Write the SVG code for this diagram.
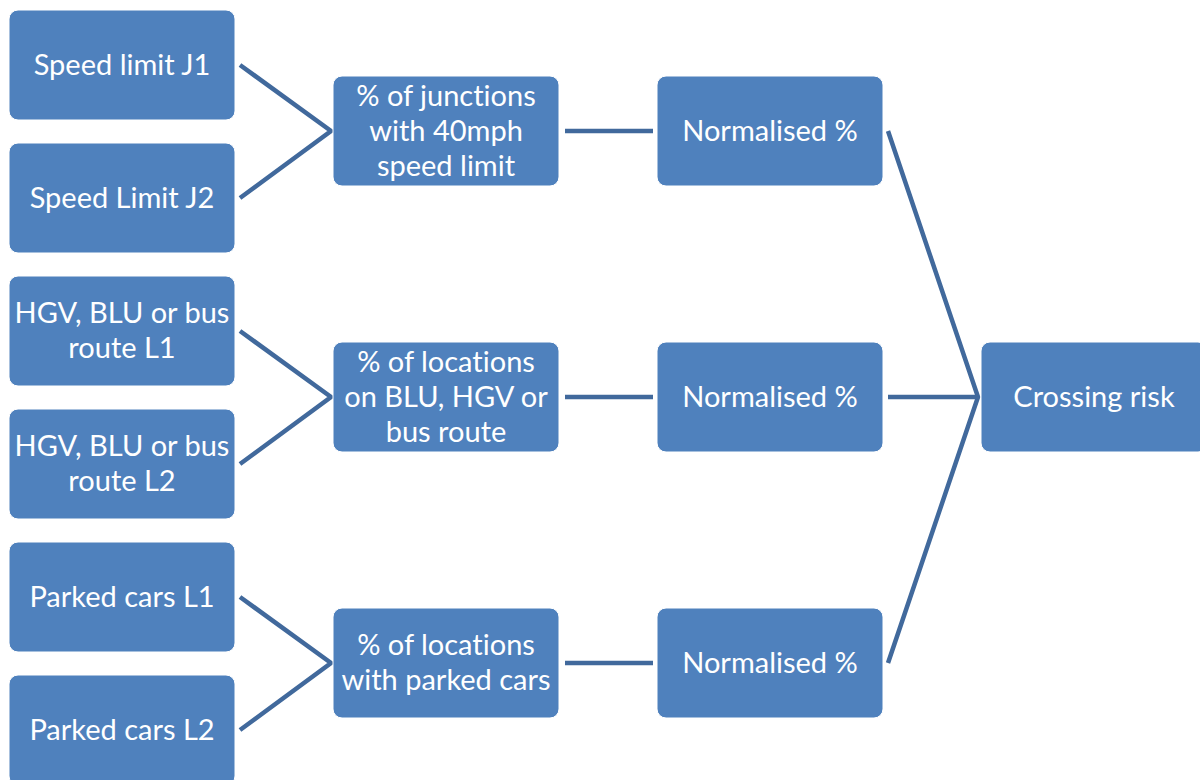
<svg xmlns="http://www.w3.org/2000/svg" width="1200" height="780" viewBox="0 0 1200 780">
<style>
.box{fill:#4F81BD;stroke:#ffffff;stroke-width:1}
.t{font-family:Lato,"Liberation Sans",sans-serif;font-size:29px;fill:#ffffff;text-anchor:middle;dominant-baseline:central;font-variant-ligatures:none}
.c{stroke:#41699C;stroke-width:4.5;fill:none}
</style>
<rect width="1200" height="780" fill="#ffffff"/>
<g id="connectors">
<polyline class="c" points="240,65 331,131 240,198"/>
<polyline class="c" points="240,331 331,397 240,464"/>
<polyline class="c" points="240,597 331,663 240,730"/>
<line class="c" x1="565" y1="131" x2="653" y2="131"/>
<line class="c" x1="565" y1="397" x2="653" y2="397"/>
<line class="c" x1="565" y1="663" x2="653" y2="663"/>
<polyline class="c" points="888,131 978,397 888,663"/>
<line class="c" x1="888" y1="397" x2="978" y2="397"/>
</g>
<g id="n1"><rect class="box" x="9" y="10" width="226" height="110" rx="9"/><text class="t" x="122" y="63">Speed limit J1</text></g>
<g id="n2"><rect class="box" x="9" y="143" width="226" height="110" rx="9"/><text class="t" x="122" y="196">Speed Limit J2</text></g>
<g id="n3"><rect class="box" x="9" y="276" width="226" height="110" rx="9"/><text class="t" x="122" y="311">HGV, BLU or bus</text><text class="t" x="122" y="346">route L1</text></g>
<g id="n4"><rect class="box" x="9" y="409" width="226" height="110" rx="9"/><text class="t" x="122" y="444">HGV, BLU or bus</text><text class="t" x="122" y="479">route L2</text></g>
<g id="n5"><rect class="box" x="9" y="542" width="226" height="110" rx="9"/><text class="t" x="122" y="595">Parked cars L1</text></g>
<g id="n6"><rect class="box" x="9" y="675" width="226" height="110" rx="9"/><text class="t" x="122" y="728">Parked cars L2</text></g>
<g id="m1"><rect class="box" x="333" y="76" width="226" height="110" rx="9"/><text class="t" x="446" y="94">% of junctions</text><text class="t" x="446" y="129">with 40mph</text><text class="t" x="446" y="164">speed limit</text></g>
<g id="m2"><rect class="box" x="333" y="342" width="226" height="110" rx="9"/><text class="t" x="446" y="360">% of locations</text><text class="t" x="446" y="395">on BLU, HGV or</text><text class="t" x="446" y="430">bus route</text></g>
<g id="m3"><rect class="box" x="333" y="608" width="226" height="110" rx="9"/><text class="t" x="446" y="643">% of locations</text><text class="t" x="446" y="678">with parked cars</text></g>
<g id="p1"><rect class="box" x="657" y="76" width="226" height="110" rx="9"/><text class="t" x="770" y="129">Normalised %</text></g>
<g id="p2"><rect class="box" x="657" y="342" width="226" height="110" rx="9"/><text class="t" x="770" y="395">Normalised %</text></g>
<g id="p3"><rect class="box" x="657" y="608" width="226" height="110" rx="9"/><text class="t" x="770" y="661">Normalised %</text></g>
<g id="r"><rect class="box" x="981" y="342" width="226" height="110" rx="9"/><text class="t" x="1094" y="395">Crossing risk</text></g>
</svg>
